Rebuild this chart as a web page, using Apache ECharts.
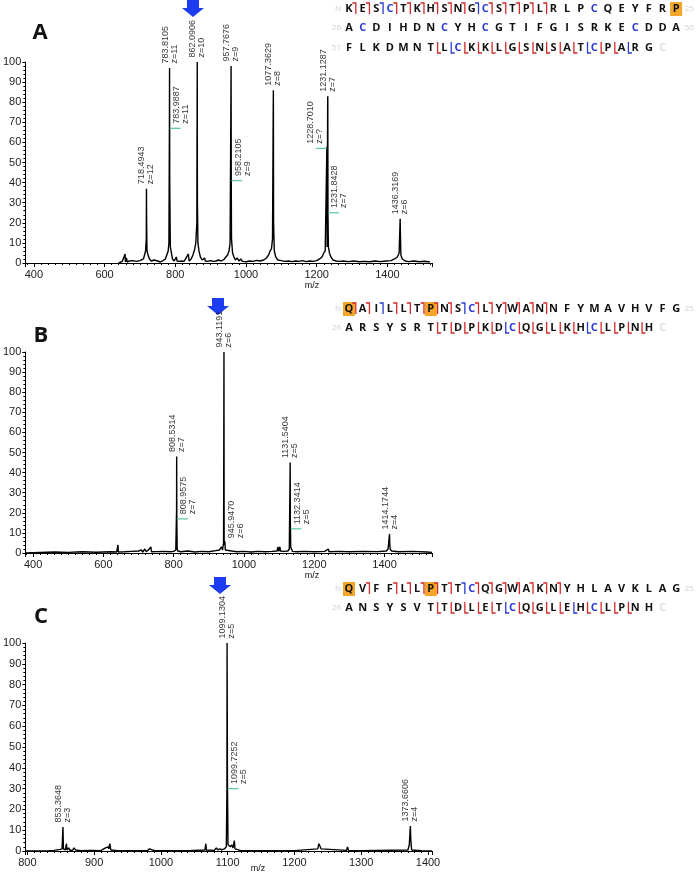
<!DOCTYPE html>
<html>
<head>
<meta charset="utf-8">
<script src="https://cdn.jsdelivr.net/npm/echarts@6/dist/echarts.min.js"></script>
<style>
  html, body { margin: 0; padding: 0; background: #fff; }
  #chart { width: 696px; height: 877px; }
</style>
</head>
<body>
<div id="chart"></div>
<script>
// ---- spectra, [m/z, relative abundance] ----
const profileA = [
  [640,0],[650,0.8],[655,0.3],[658,4.5],[659,0.5],[662,2.5],[664,0.5],[670,1],[675,0.3],[680,1.2],[685,0.5],
  [690,0.8],[695,0.3],[700,1.2],[705,0.8],[710,2],[713,4],[716,6],[718,12],[718.5,37],[719,20],[720,6],[723,4],
  [727,2],[732,1],[740,1.5],[745,0.6],[750,1],[758,0.5],[765,1.2],[772,2],[776,4],[780,6],[782,10],[783.5,72],
  [783.8,97],[784.3,40],[786,8],[789,5],[792,2],[797,1],[803,3],[805,1],[812,0.8],[818,1],[825,0.8],[830,1.5],
  [837,4.5],[839,1],[845,2],[850,4],[855,7],[858,10],[861,20],[861.8,80],[862.1,100],[862.6,30],[864,10],[867,6],
  [871,3],[876,1.5],[883,2.5],[885,1],[892,0.8],[900,1.2],[908,0.8],[915,1],[922,1.5],[930,1],[938,1.8],[943,3],
  [948,4],[952,6],[955,10],[957.4,84],[957.8,98],[958.3,41],[959,12],[962,5],[966,3],[970,1.5],[975,2.5],[980,1],
  [985,2],[990,0.8],[995,1],[1000,0.6],[1010,1],[1020,0.8],[1030,1.3],[1040,1],[1050,1.5],[1058,2.5],[1064,4],
  [1068,6],[1072,7],[1075,12],[1077,77],[1077.4,86],[1078,20],[1080,6],[1084,3],[1090,1.5],[1095,1],[1100,1.2],
  [1110,0.8],[1120,1],[1130,0.7],[1140,1],[1150,0.8],[1160,1.2],[1170,0.7],[1180,1],[1190,0.8],[1200,1.2],
  [1208,2],[1215,3],[1220,5],[1224,6],[1228.7,58],[1229.5,8],[1231,82],[1231.3,83],[1231.8,25],[1233,8],[1236,5],
  [1240,3],[1246,1.5],[1255,1],[1265,0.8],[1275,1],[1290,0.7],[1305,1],[1320,0.6],[1335,0.8],[1350,0.6],[1365,1],
  [1380,0.7],[1395,1],[1410,1.2],[1420,2],[1428,3],[1433,5],[1436,22],[1436.6,15],[1438,4],[1442,2],[1450,1],
  [1460,0.7],[1475,1],[1490,0.6],[1505,0.9],[1520,0.5]
];
const profileB = [
  [378,0],[420,0.3],[460,0.5],[500,0.3],[540,0.6],[580,0.4],[620,0.6],[638,0.5],[641.5,4],[642.5,0.5],[660,0.6],
  [680,0.8],[700,1],[708,1.5],[712,0.5],[718,2],[722,0.7],[728,1.5],[735,3],[737,0.6],[750,0.7],[770,0.8],
  [790,0.6],[800,0.8],[806,1.5],[808.3,22],[808.5,48],[808.96,17],[810,2],[812,1],[820,0.6],[840,1],[860,0.5],
  [880,0.8],[900,0.6],[920,1.2],[930,1.5],[936,3],[939,1.5],[942,5],[943.1,100],[943.6,4],[944.8,6],[945.9,5],
  [947,1.5],[950,0.8],[965,1],[980,0.6],[1000,0.8],[1020,0.5],[1040,0.8],[1060,0.6],[1080,0.8],[1094,1],[1097,3],
  [1099,0.8],[1102,3],[1104,1],[1110,0.8],[1125,1],[1129,2],[1131.5,45],[1131.9,15],[1132.34,12],[1133,3],
  [1136,2.5],[1138,0.8],[1150,0.6],[1170,0.8],[1200,0.6],[1230,0.8],[1240,2],[1242,0.6],[1270,0.8],[1300,0.6],
  [1340,0.8],[1380,0.7],[1405,1],[1410,2],[1414.2,9.5],[1414.7,5],[1416,2],[1420,1],[1440,0.6],[1480,0.8],
  [1520,0.5],[1535,0.3]
];
const profileC = [
  [797,0],[830,0],[840,0.3],[849,0.8],[852,1],[853.3,11.5],[854,1],[857,0.5],[858.5,3.5],[859.5,0.5],[862,1.5],
  [864,0.3],[866,1],[868,0.5],[870,1.5],[872,0.5],[874,0.8],[880,0.2],[893,0.3],[895,1],[897,0.3],[910,0.2],
  [917,1.5],[919,1],[921,2],[922,1],[923.5,3.5],[925,0.5],[935,0.2],[980,0.3],[983,1],[987,0.5],[989,1],[991,0.2],
  [1040,0.2],[1066,0.5],[1067.3,3.5],[1068,0.5],[1080,0.3],[1083,1.5],[1085,0.5],[1088,1],[1091,0.6],[1095,1],
  [1098,2],[1098.9,30],[1099.1,100],[1099.7,30],[1100.5,3],[1102,2.5],[1104,2],[1106,3],[1108,1.5],[1110,5],
  [1111,1],[1113,0.5],[1120,0.2],[1200,0.2],[1235,1],[1236.5,3.5],[1238,2.5],[1240,1],[1242,0.3],[1278,0.3],
  [1279.5,2],[1281,0.3],[1300,0.2],[1370,0.5],[1372,3],[1373.6,12],[1374.3,5],[1375.5,0.5],[1390,0.2],[1406,0]
];

// ---- peak annotations [m/z, abundance, text] ----
const labelsA = [
  [718.4943, 37, '718.4943\nz=12'], [783.8105, 97, '783.8105\nz=11'], [862.0906, 100, '862.0906\nz=10'],
  [957.7676, 98, '957.7676\nz=9'], [1077.3629, 86, '1077.3629\nz=8'], [1231.1287, 83, '1231.1287\nz=7'],
  [1436.3169, 22, '1436.3169\nz=6']
];
const isoA = [[783.9887, 67, '783.9887\nz=11'], [958.2105, 41, '958.2105\nz=9'], [1231.8428, 25, '1231.8428\nz=7']];
const isoLeftA = [[1228.7010, 57, '1228.7010\nz=?']];
const labelsB = [
  [808.5314, 48, '808.5314\nz=7'], [943.1191, 100, '943.1191\nz=6'],
  [1131.5404, 45, '1131.5404\nz=5'], [1414.1744, 9.5, '1414.1744\nz=4']
];
const isoB = [[808.9575, 17, '808.9575\nz=7'], [1132.3414, 12, '1132.3414\nz=5']];
const isoBareB = [[945.9470, 5, '945.9470\nz=6']];
const labelsC = [[853.3648, 11.5, '853.3648\nz=3'], [1099.1304, 100, '1099.1304\nz=5'], [1373.6606, 12, '1373.6606\nz=4']];
const isoC = [[1099.7252, 30, '1099.7252\nz=5']];

// ---- sequence coverage maps ----
const seqA = ['KESCTKHSNGCSTPLRLPCQEYFRP', 'ACDIHDNCYHCGTIFGISRKECDDA', 'FLKDMNTLCKKLGSNSATCPARG'];
const cutsA = ['rrbrrrrrrbrrrrr         ', '                        ', '      RBRRRRRRRRRBRRB  '];
const seqB = ['QAILLTPNSCLYWANNFYMAVHVFG', 'ARSYSRTTDPKDCQGLKHCLPNH'];
const cutsB = ['rrbrrrrrbrrrrrr         ', '      RRRRRBRRRRRBRRRR '];
const seqC = ['QVFFLLPTTCQGWAKNYHLAVKLAG', 'ANSYSVTTDLETCQGLEHCLPNH'];
const cutsC = [' r rrrrrbrrrrrrr        ', '      RRRRRBRRRRBRRRR  '];
const markedA = [[0, 24]];
const markedB = [[0, 0], [0, 6]];
const markedC = [[0, 0], [0, 6]];

const FONT = 'Arial, "Liberation Sans", sans-serif';
const GREEN = '#3dbd8c';
const grids = [
  { left: 22, width: 410, top: 62, height: 201 },
  { left: 22, width: 410, top: 352, height: 201 },
  { left: 22, width: 410, top: 643, height: 208 },
];
const xRanges = [[376, 1526], [378, 1535], [797, 1406]];

function xAxis(i) {
  return {
    type: 'value', gridIndex: i, min: xRanges[i][0], max: xRanges[i][1],
    axisLine: { lineStyle: { color: '#000', width: 1 } },
    axisTick: { length: 4, lineStyle: { color: '#000' } },
    minorTick: { show: true, splitNumber: 10, length: 2, lineStyle: { color: '#000' } },
    axisLabel: {
      fontSize: 11, color: '#222', margin: 6, fontFamily: FONT,
      formatter: (v) => (v % 100 === 0 ? String(v) : ''),
    },
    splitLine: { show: false },
  };
}
function yAxis(i) {
  return {
    type: 'value', gridIndex: i, min: 0, max: 100, interval: 10,
    axisLine: { show: true, lineStyle: { color: '#000', width: 1 } },
    axisTick: { show: true, length: 3, lineStyle: { color: '#000' } },
    minorTick: { show: true, splitNumber: 5, length: 2, lineStyle: { color: '#000' } },
    axisLabel: { fontSize: 11, color: '#222', margin: 4, fontFamily: FONT },
    splitLine: { show: false },
  };
}
function spectrum(data, i) {
  return {
    type: 'line', xAxisIndex: i, yAxisIndex: i, data, symbol: 'none', silent: true,
    lineStyle: { color: '#000', width: 1.4 }, animation: false, z: 2,
  };
}
const labelBase = {
  show: true, position: 'top', distance: 4, rotate: 90, align: 'left', verticalAlign: 'middle',
  formatter: (p) => p.data[2], fontSize: 9, lineHeight: 9, fontFamily: FONT, color: '#000',
};
function peakLabels(data, i) {
  return {
    type: 'scatter', xAxisIndex: i, yAxisIndex: i, data, symbolSize: 1, silent: true, clip: false,
    itemStyle: { color: 'rgba(0,0,0,0)' }, label: labelBase, z: 5, animation: false,
  };
}
function isoLabels(data, i, side, showLine) {
  return {
    type: 'scatter', xAxisIndex: i, yAxisIndex: i, data, symbol: 'rect', symbolSize: [11, 1.3],
    symbolOffset: [side * 5.5, 0], silent: true, clip: false,
    itemStyle: { color: showLine ? GREEN : 'rgba(0,0,0,0)' },
    label: Object.assign({}, labelBase, { offset: [0, side * 6] }), z: 6, animation: false,
  };
}

// ---- sequence maps drawn as graphic elements ----
const SEQ_X0 = 349, SEQ_DX = 13.63;
function seqBlock(rows, cuts, marked, rowY) {
  const els = [];
  const red = '#d42a2a', blue = '#2b3bd0';
  rows.forEach((row, r) => {
    const y = rowY[r];
    marked.filter((m) => m[0] === r).forEach((m) => {
      els.push({ type: 'rect', shape: { x: SEQ_X0 + m[1] * SEQ_DX - 6, y: y - 7, width: 12, height: 14 },
        style: { fill: '#f4a62a' }, z: 1 });
    });
    row.split('').forEach((ch, k) => {
      els.push({ type: 'text', x: SEQ_X0 + k * SEQ_DX, y, z: 3,
        style: { text: ch, fill: ch === 'C' ? blue : '#111', font: 'bold 11px "Open Sans", sans-serif',
          align: 'center', verticalAlign: 'middle' } });
    });
    const left = r === 0 ? 'N' : String(r * 25 + 1);
    els.push({ type: 'text', x: SEQ_X0 - 8, y, z: 3,
      style: { text: left, fill: '#cfcfcf', font: '8px "Open Sans", sans-serif', align: 'right', verticalAlign: 'middle' } });
    if (row.length === 25) {
      els.push({ type: 'text', x: SEQ_X0 + 25 * SEQ_DX - 5, y, z: 3,
        style: { text: String((r + 1) * 25), fill: '#cfcfcf', font: '8px "Open Sans", sans-serif', align: 'left', verticalAlign: 'middle' } });
    }
    if (r === rows.length - 1) {
      els.push({ type: 'text', x: SEQ_X0 + row.length * SEQ_DX, y, z: 3,
        style: { text: 'C', fill: '#dedede', font: 'bold 11px "Open Sans", sans-serif', align: 'center', verticalAlign: 'middle' } });
    }
    cuts[r].split('').forEach((c, k) => {
      if (c === ' ') return;
      const xm = SEQ_X0 + (k + 0.5) * SEQ_DX;
      const top = c === 'r' || c === 'b';
      const pts = top ? [[xm - 3.5, y - 6], [xm, y - 6], [xm, y + 5]] : [[xm, y - 6], [xm, y + 5], [xm + 3.5, y + 5]];
      els.push({ type: 'polyline', shape: { points: pts }, z: 2,
        style: { stroke: c === 'b' || c === 'B' ? blue : red, lineWidth: 1.3, fill: null } });
    });
  });
  return els;
}
function arrow(cx, y0) {
  return { type: 'polygon', z: 4, style: { fill: '#1c3cf2' },
    shape: { points: [[cx - 6, y0], [cx + 6, y0], [cx + 6, y0 + 8], [cx + 11, y0 + 8], [cx, y0 + 17], [cx - 11, y0 + 8], [cx - 6, y0 + 8]] } };
}
function txt(x, y, s, font) {
  return { type: 'text', x, y, z: 4, style: { text: s, fill: '#111', font, align: 'center', verticalAlign: 'middle' } };
}

const graphics = [].concat(
  seqBlock(seqA, cutsA, markedA, [9, 28, 48]),
  seqBlock(seqB, cutsB, markedB, [309, 328]),
  seqBlock(seqC, cutsC, markedC, [589, 608]),
  [arrow(193, 0), arrow(218, 298), arrow(220, 577)],
  [txt(40, 33, 'A', 'bold 22px "Open Sans", sans-serif'), txt(41, 336, 'B', 'bold 22px "Open Sans", sans-serif'),
   txt(41, 617, 'C', 'bold 22px "Open Sans", sans-serif')],
  [txt(312, 286, 'm/z', '9px ' + FONT), txt(312, 576, 'm/z', '9px ' + FONT), txt(258, 869, 'm/z', '9px ' + FONT)]
);

const chart = echarts.init(document.getElementById('chart'));
chart.setOption({
  backgroundColor: '#fff',
  animation: false,
  grid: grids,
  xAxis: [xAxis(0), xAxis(1), xAxis(2)],
  yAxis: [yAxis(0), yAxis(1), yAxis(2)],
  series: [
    spectrum(profileA, 0), spectrum(profileB, 1), spectrum(profileC, 2),
    peakLabels(labelsA, 0), isoLabels(isoA, 0, 1, true), isoLabels(isoLeftA, 0, -1, true),
    peakLabels(labelsB, 1), isoLabels(isoB, 1, 1, true), isoLabels(isoBareB, 1, 1, false),
    peakLabels(labelsC, 2), isoLabels(isoC, 2, 1, true),
  ],
  graphic: graphics,
});
window.addEventListener('resize', () => chart.resize());
</script>
</body>
</html>
